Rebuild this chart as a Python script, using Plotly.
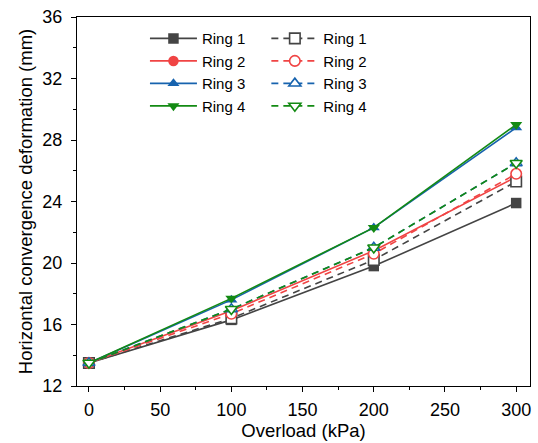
import plotly.graph_objects as go

# Overload steps (kPa)
overload = [0, 100, 200, 300]

# Horizontal convergence deformation (mm), solid lines
ring1_solid = [13.5, 16.3, 19.8, 23.9]
ring2_solid = [13.5, 16.9, 20.8, 25.6]
ring3_solid = [13.5, 17.6, 22.3, 28.8]
ring4_solid = [13.5, 17.7, 22.3, 29.0]

# Horizontal convergence deformation (mm), dashed lines
ring1_dash = [13.5, 16.4, 20.2, 25.3]
ring2_dash = [13.5, 16.7, 20.6, 25.8]
ring3_dash = [13.5, 17.0, 21.0, 26.5]
ring4_dash = [13.5, 17.0, 21.0, 26.5]

names = ["Ring 1", "Ring 2", "Ring 3", "Ring 4"]
colors = ["#444444", "#F04444", "#1763AE", "#138A13"]
symbols = ["square", "circle", "triangle-up", "triangle-down"]

solid_sets = [ring1_solid, ring2_solid, ring3_solid, ring4_solid]
dash_sets = [ring1_dash, ring2_dash, ring3_dash, ring4_dash]

FONT = "Liberation Sans, Arial, Helvetica, sans-serif"

fig = go.Figure()

for name, col, sym, ys in zip(names, colors, symbols, solid_sets):
    fig.add_trace(go.Scatter(
        x=overload, y=ys, name=name, mode="lines+markers",
        line=dict(color=col, width=1.6),
        marker=dict(symbol=sym, size=10.5, color=col, line=dict(width=0)),
        legend="legend",
    ))

for name, col, sym, ys in zip(names, colors, symbols, dash_sets):
    fig.add_trace(go.Scatter(
        x=overload, y=ys, name=name, mode="lines+markers",
        line=dict(color=col, width=1.6, dash="7px,5px"),
        marker=dict(symbol=sym, size=10.5, color="white",
                    line=dict(color=col, width=1.6)),
        legend="legend2",
    ))

axis_common = dict(
    showline=True, linecolor="black", linewidth=1.3, mirror=True,
    ticks="outside", ticklen=5, tickwidth=1.3, tickcolor="black",
    showgrid=False, zeroline=False,
    tickfont=dict(family=FONT, size=18, color="black"),
)

fig.update_layout(
    width=538, height=443,
    margin=dict(l=77, r=7, t=13, b=57),
    plot_bgcolor="white", paper_bgcolor="white",
    font=dict(family=FONT, color="black"),
    xaxis=dict(
        range=[-8.4, 309.7], tickvals=[0, 50, 100, 150, 200, 250, 300],
        minor=dict(dtick=25, tick0=0, ticks="outside", ticklen=3,
                   tickwidth=1.3, tickcolor="black"),
        title=dict(text="Overload (kPa)", font=dict(family=FONT, size=18.5),
                   standoff=2),
        ticklabelstandoff=2,
        **axis_common,
    ),
    yaxis=dict(
        range=[12, 36], tickvals=[12, 16, 20, 24, 28, 32, 36],
        minor=dict(dtick=2, tick0=12, ticks="outside", ticklen=3,
                   tickwidth=1.3, tickcolor="black"),
        title=dict(text="Horizontal convergence deformation (mm)",
                   font=dict(family=FONT, size=18.5), standoff=4),
        ticklabelstandoff=5,
        **axis_common,
    ),
    legend=dict(
        x=0.15, y=0.986, xanchor="left", yanchor="top",
        bgcolor="rgba(0,0,0,0)", itemwidth=47,
        font=dict(family=FONT, size=15, color="black"),
        tracegroupgap=0,
    ),
    legend2=dict(
        x=0.418, y=0.986, xanchor="left", yanchor="top",
        bgcolor="rgba(0,0,0,0)", itemwidth=47,
        font=dict(family=FONT, size=15, color="black"),
        tracegroupgap=0,
    ),
    showlegend=True,
)

fig.write_html("out.html")
